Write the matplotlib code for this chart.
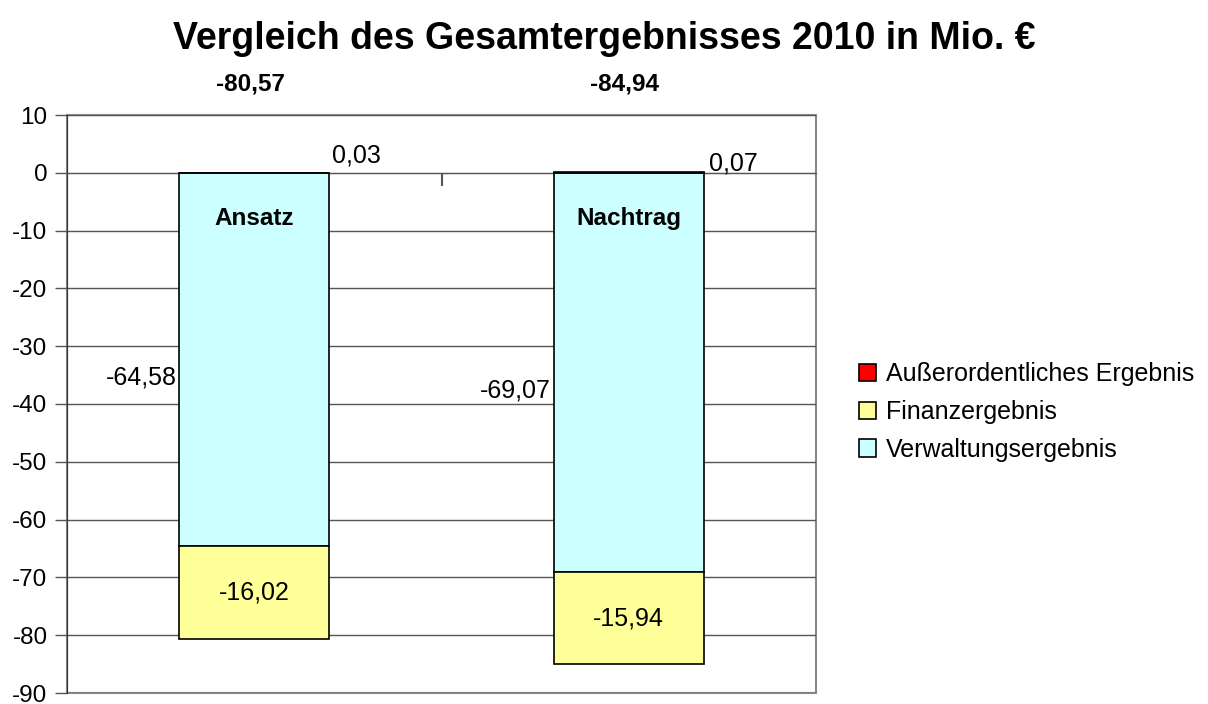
import numpy as np
import matplotlib.pyplot as plt
from matplotlib.patches import Rectangle

plt.rcParams['font.family'] = ['Liberation Sans', 'DejaVu Sans']
plt.rcParams['axes.unicode_minus'] = False

# Data (Mio. EUR)
categories = ['Ansatz', 'Nachtrag']
verwaltung = [-64.58, -69.07]
finanz = [-16.02, -15.94]
ausserord = [0.03, 0.07]
totals = [-80.57, -84.94]

series_names = ['Außerordentliches Ergebnis', 'Finanzergebnis', 'Verwaltungsergebnis']
colors = {'verw': '#CCFFFF', 'fin': '#FFFF99', 'ao': '#FF0000'}

fmt = lambda v: ('%.2f' % v).replace('.', ',')

fig = plt.figure(figsize=(12.08, 7.04), dpi=100)
ax = fig.add_axes([67/1208, 11/704, (816-67)/1208, (693-115)/704])

x = np.arange(len(categories))
w = 0.4

b_verw = ax.bar(x, verwaltung, w, color=colors['verw'], edgecolor='black', linewidth=1.2, zorder=3)
b_fin = ax.bar(x, finanz, w, bottom=verwaltung, color=colors['fin'], edgecolor='black', linewidth=1.2, zorder=3)
b_ao = ax.bar(x, ausserord, w, color=colors['ao'], edgecolor='black', linewidth=1.2, zorder=3)

ax.set_xlim(-0.5, 1.5)
ax.set_ylim(-90, 10)
ax.set_yticks(np.arange(-90, 11, 10))
ax.yaxis.grid(True, color='#555555', linewidth=1)
ax.set_axisbelow(True)
ax.tick_params(axis='y', labelsize=17.5, length=9, width=1, color='#555555', direction='out', pad=5)

# category axis crosses at 0
ax.spines['bottom'].set_position(('data', 0))
ax.spines['bottom'].set_color('#555555')
ax.set_xticks([0.5])
ax.set_xticklabels([])
ax.tick_params(axis='x', length=9, width=1.5, color='#555555', direction='out')
for s in ['top', 'right']:
    ax.spines[s].set_visible(False)
ax.spines['left'].set_color('#333333')
ax.add_patch(Rectangle((0, 0), 1, 1, transform=ax.transAxes, fill=False,
                       edgecolor='#888888', linewidth=1.5, zorder=0, clip_on=False))

# labels
for i in range(len(categories)):
    ax.annotate(categories[i], (x[i], 0), xytext=(0, -33), textcoords='offset points',
                ha='center', va='center', fontsize=17.5, fontweight='bold', zorder=5)
    ax.annotate(fmt(verwaltung[i]), (x[i] - w/2, verwaltung[i]/2), xytext=(-2, -13),
                textcoords='offset points', ha='right', va='center', fontsize=18)
    ax.text(x[i], verwaltung[i] + finanz[i]/2, fmt(finanz[i]), ha='center', va='center',
            fontsize=18, zorder=5)
    ax.annotate(fmt(totals[i]), (x[i], 10), xytext=(-3, 22), textcoords='offset points',
                ha='center', va='center', fontsize=17.5, fontweight='bold')
ax.annotate(fmt(ausserord[0]), (x[0] + w/2, ausserord[0]), xytext=(2, 4),
            textcoords='offset points', ha='left', va='bottom', fontsize=18)
ax.annotate(fmt(ausserord[1]), (x[1] + w/2, ausserord[1]), xytext=(4, -2),
            textcoords='offset points', ha='left', va='bottom', fontsize=18)

fig.suptitle('Vergleich des Gesamtergebnisses 2010 in Mio. €', x=604/1208, y=0.97,
             fontsize=27, fontweight='bold')

handles = [b_ao, b_fin, b_verw]
leg = fig.legend(handles, series_names, loc='center left', bbox_to_anchor=(836/1208, 292/704),
                 frameon=False, fontsize=18, handlelength=0.7, handleheight=0.7,
                 handletextpad=0.4, labelspacing=0.55)

fig.savefig('out.png', dpi=100)
